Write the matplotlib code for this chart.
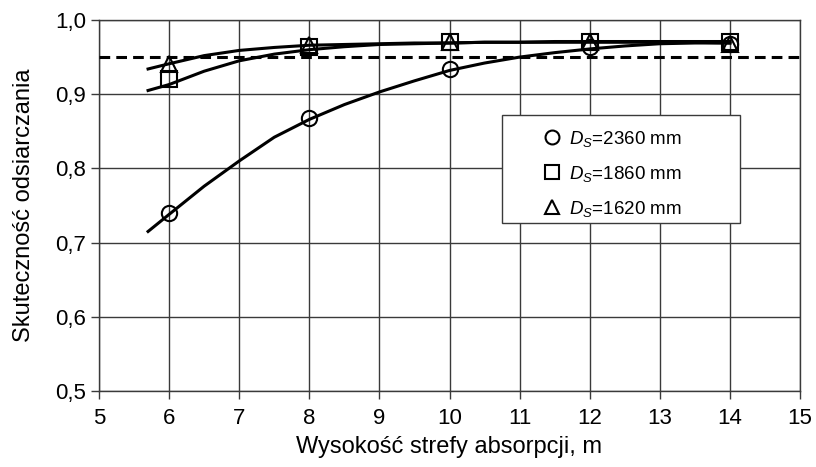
import matplotlib
matplotlib.use('Agg')
import matplotlib.pyplot as plt
from matplotlib.lines import Line2D
from matplotlib.patches import Rectangle

plt.rcParams['font.family'] = ['Liberation Sans', 'DejaVu Sans']
plt.rcParams['mathtext.fontset'] = 'custom'
plt.rcParams['mathtext.it'] = 'Liberation Sans:italic'
plt.rcParams['mathtext.rm'] = 'Liberation Sans'

# measured points
x_pts = [6, 8, 10, 12, 14]
eff_2360 = [0.740, 0.868, 0.934, 0.963, 0.968]
eff_1860 = [0.921, 0.964, 0.970, 0.970, 0.970]
eff_1620 = [0.941, 0.966, 0.970, 0.970, 0.967]

# fitted curves
x_fit = [5.7, 6, 6.5, 7, 7.5, 8, 8.5, 9, 9.5, 10, 10.5, 11, 11.5, 12, 12.5, 13, 13.5, 14]
fit_2360 = [0.715, 0.738, 0.776, 0.810, 0.842, 0.866, 0.886, 0.903, 0.918, 0.932,
            0.942, 0.950, 0.956, 0.961, 0.965, 0.968, 0.969, 0.969]
fit_1860 = [0.905, 0.913, 0.931, 0.945, 0.954, 0.960, 0.964, 0.967, 0.968, 0.969,
            0.970, 0.970, 0.971, 0.971, 0.971, 0.971, 0.971, 0.971]
fit_1620 = [0.934, 0.941, 0.952, 0.959, 0.963, 0.966, 0.967, 0.968, 0.969, 0.969,
            0.970, 0.970, 0.970, 0.970, 0.970, 0.970, 0.970, 0.969]

limit = 0.95
labels = [r'$D_S$=2360 mm', r'$D_S$=1860 mm', r'$D_S$=1620 mm']
markers = ['o', 's', '^']

fig = plt.figure(figsize=(8.16, 4.67), dpi=100)
ax = fig.add_axes([99 / 816, 1 - 391 / 467, 701 / 816, 371 / 467])

ax.axhline(limit, color='black', lw=2.2, linestyle=(0, (3.5, 2)), zorder=3)

for fit, eff, m in zip([fit_2360, fit_1860, fit_1620], [eff_2360, eff_1860, eff_1620], markers):
    ax.plot(x_fit, fit, color='black', lw=2.2, zorder=4)
    ax.plot(x_pts, eff, linestyle='none', marker=m, markersize=11,
            markerfacecolor='none', markeredgecolor='black', markeredgewidth=1.5, zorder=5)

ax.set_xlim(5, 15)
ax.set_ylim(0.5, 1.0)
ax.set_xticks(range(5, 16))
ax.set_yticks([0.5, 0.6, 0.7, 0.8, 0.9, 1.0])
ax.set_yticklabels(['0,5', '0,6', '0,7', '0,8', '0,9', '1,0'])
ax.grid(True, color='#3a3a3a', lw=1)
for s in ax.spines.values():
    s.set_color('#3a3a3a')
    s.set_linewidth(1)
ax.tick_params(axis='both', labelsize=16, direction='out', length=6, width=1, color='#3a3a3a')
ax.tick_params(axis='x', pad=6)
ax.set_xlabel('Wysokość strefy absorpcji, m', fontsize=17, labelpad=5)
ax.set_ylabel('Skuteczność odsiarczania', fontsize=17, labelpad=14)

# legend box
fig.patches.append(Rectangle((502 / 816, 1 - 223 / 467), 238 / 816, 108 / 467,
                             transform=fig.transFigure, facecolor='white',
                             edgecolor='#3a3a3a', lw=1, zorder=6))
handles = [Line2D([], [], linestyle='none', marker=m, markersize=10, markerfacecolor='none',
                  markeredgecolor='black', markeredgewidth=1.5) for m in markers]
leg = fig.legend(handles, labels, loc='upper left', bbox_to_anchor=(526 / 816, 1 - 112 / 467),
                 frameon=False, fontsize=13.5, handlelength=1.0, handletextpad=0.4,
                 labelspacing=0.8)
leg.set_zorder(7)

fig.savefig('out.png', dpi=100)
